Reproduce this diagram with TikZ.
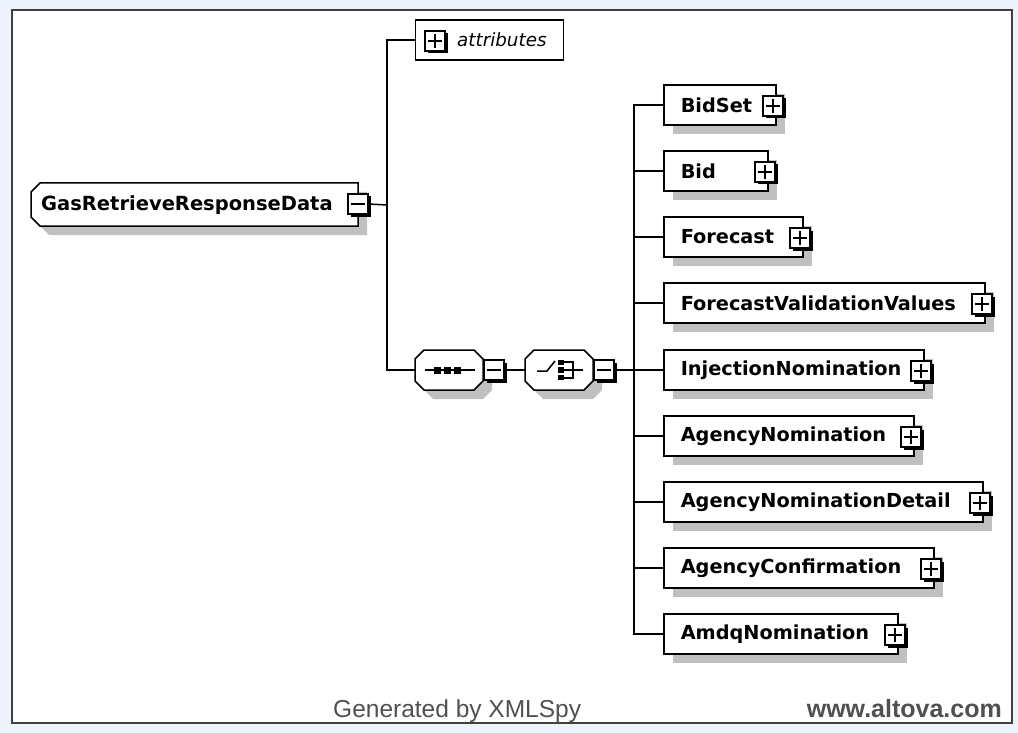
\documentclass[tikz,border=0pt]{standalone}
\usepackage{fontspec}
\setmainfont{DejaVu Sans}
\newfontfamily\elfont{DejaVu Sans}
\newfontfamily\ftfont{Liberation Sans}
\usetikzlibrary{shadows}
\definecolor{bgblue}{HTML}{EEF2FA}
\definecolor{shgray}{HTML}{C0C0C0}
\definecolor{framegray}{HTML}{404040}
\definecolor{footgray}{HTML}{505050}
\newcommand{\octo}[5]{%
  \path[#5] (#1+9,#2) -- (#3-9,#2) -- (#3,#2+9) -- (#3,#4-9) -- (#3-9,#4) -- (#1+9,#4) -- (#1,#4-9) -- (#1,#2+9) -- cycle;}
\begin{document}
\begin{tikzpicture}[x=1pt,y=-1pt,
  conn/.style={line width=1.5pt},
  elem/.style={draw, line width=1.5pt, fill=white, rectangle, anchor=west,
    minimum height=40pt, inner xsep=17pt, inner ysep=0pt, align=left,
    font=\elfont\bfseries\fontsize{19.3}{22}\selectfont,
    general shadow={fill=shgray, shadow xshift=9pt, shadow yshift=-9pt}},
  boxbase/.style={draw, line width=1.2pt, fill=white, minimum size=20pt, inner sep=0pt,
    general shadow={fill=black, shadow xshift=2.5pt, shadow yshift=-2.5pt}},
  pbox/.style={boxbase, path picture={
    \draw[line width=1.4pt] ([xshift=-7pt]path picture bounding box.center) -- ([xshift=7pt]path picture bounding box.center);
    \draw[line width=1.4pt] ([yshift=-7pt]path picture bounding box.center) -- ([yshift=7pt]path picture bounding box.center);}},
  mbox/.style={boxbase, path picture={
    \draw[line width=1.4pt] ([xshift=-7pt]path picture bounding box.center) -- ([xshift=7pt]path picture bounding box.center);}},
  comp/.style={rectangle, minimum width=68pt, minimum height=40pt, inner sep=0pt}
]
\useasboundingbox (0,0) rectangle (1018,733);
\fill[bgblue] (0,0) rectangle (1018,733);
\draw[framegray, line width=2pt, fill=white] (12,10) rectangle (1012,723);

% root element
\path[fill=shgray] (49,192) -- (367,192) -- (367,235) -- (49,235) -- (40,226) -- (40,201) -- cycle;
\path[draw, line width=1.5pt, fill=white] (40,183) -- (358,183) -- (358,226) -- (40,226) -- (31,217) -- (31,192) -- cycle;
\node[anchor=west, inner sep=0pt, font=\elfont\bfseries\fontsize{19.5}{22}\selectfont] (root) at (41,205) {GasRetrieveResponseData};
\node[mbox] (rootm) at (358,204) {};

% junction
\coordinate (j1) at (387,205);
\draw[conn] (rootm.east) -- (j1);

% attributes
\node[draw, line width=1.2pt, fill=white, minimum width=148pt, minimum height=40pt, anchor=west, inner sep=0pt] (attr) at (415,40) {};
\node[pbox] (attrp) at (435,41) {};
\node[anchor=west, inner sep=0pt, font=\elfont\itshape\fontsize{18.3}{22}\selectfont] (attrtxt) at (457,40) {attributes};
\draw[conn] (j1) |- (attr.west);

% sequence compositor
\octo{424}{359}{492}{399}{fill=shgray}
\octo{415}{350}{483}{390}{draw, line width=1.5pt, fill=white}
\node[comp] (seq) at (449,370) {};
\draw[line width=1.5pt] (425,370) -- (475,370);
\fill (434,366.5) rectangle (441,373.5);
\fill (444,366.5) rectangle (451,373.5);
\fill (454,366.5) rectangle (461,373.5);
\node[mbox] (seqm) at (494,370) {};
\draw[conn] (j1) |- (seq.west);

% choice compositor
\octo{534}{359}{602}{399}{fill=shgray}
\octo{525}{350}{593}{390}{draw, line width=1.5pt, fill=white}
\node[comp] (cho) at (559,370) {};
\draw[line width=1.5pt] (537,371) -- (547,371) -- (555,361);
\fill (558,360) rectangle (564,365);
\fill (558,367) rectangle (564,373);
\fill (558,375) rectangle (564,380);
\draw[line width=1.5pt] (564,362) -- (573,362) -- (573,378) -- (564,378);
\draw[line width=1.5pt] (564,370) -- (583,370);
\node[mbox] (chom) at (604,370) {};
\draw[conn] (seqm.east) -- (cho.west);
\coordinate (j2) at (634,370);
\draw[conn] (chom.east) -- (j2);

% children
\node[elem, text width=78pt]  (e1) at (663,105) {BidSet};
\node[pbox] (e1p) at (773,106) {};
\node[elem, text width=70pt]  (e2) at (663,171) {Bid};
\node[pbox] (e2p) at (765,172) {};
\node[elem, text width=105pt] (e3) at (663,237) {Forecast};
\node[pbox] (e3p) at (800,238) {};
\node[elem, text width=287pt] (e4) at (663,303) {ForecastValidationValues};
\node[pbox] (e4p) at (982,304) {};
\node[elem, text width=226pt] (e5) at (663,370) {InjectionNomination};
\node[pbox] (e5p) at (921,371) {};
\node[elem, text width=216pt] (e6) at (663,436) {AgencyNomination};
\node[pbox] (e6p) at (911,437) {};
\node[elem, text width=285pt] (e7) at (663,502) {AgencyNominationDetail};
\node[pbox] (e7p) at (980,503) {};
\node[elem, text width=236pt] (e8) at (663,568) {AgencyConfirmation};
\node[pbox] (e8p) at (931,569) {};
\node[elem, text width=200pt] (e9) at (663,634) {AmdqNomination};
\node[pbox] (e9p) at (895,635) {};

\foreach \e in {e1,e2,e3,e4,e5,e6,e7,e8,e9}
  \draw[conn] (j2) |- (\e.west);

% footer
\node[anchor=base west, inner sep=0pt, text=footgray, font=\ftfont\fontsize{24.5}{28}\selectfont] (gen) at (333,717) {Generated by XMLSpy};
\node[anchor=base east, inner sep=0pt, text=footgray, font=\ftfont\bfseries\fontsize{25}{28}\selectfont] (www) at (1002,717) {www.altova.com};
\end{tikzpicture}
\end{document}
